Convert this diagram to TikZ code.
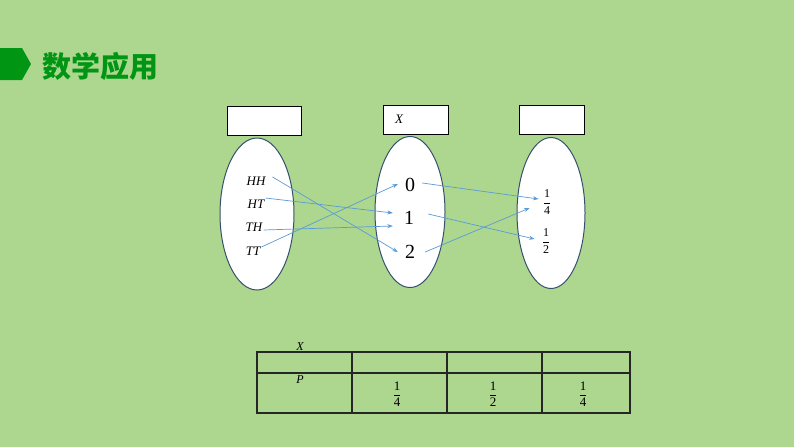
\documentclass[tikz,border=0pt]{standalone}
\usepackage{fontspec}
\setmainfont{Liberation Serif}
\newfontfamily\cjk{Noto Sans CJK SC}
\usepackage{tikz}
\usetikzlibrary{shapes.geometric, arrows.meta, positioning}
\definecolor{bggreen}{RGB}{173,215,143}
\definecolor{titlegreen}{RGB}{0,150,20}
\definecolor{maplink}{RGB}{91,155,213}
\definecolor{ovalline}{RGB}{55,80,110}
\newcommand{\pfrac}[2]{$\displaystyle\frac{\mbox{#1}}{\mbox{#2}}$}

\begin{document}
\begin{tikzpicture}[
    x=1pt, y=-1pt,
    setoval/.style={ellipse, draw=ovalline, fill=white, line width=1pt, minimum width=74pt, minimum height=152pt},
    headbox/.style={rectangle, draw=black, fill=white, line width=0.9pt, minimum width=65pt, minimum height=29pt},
    outcome/.style={font=\fontsize{13}{13}\selectfont\itshape, inner sep=1pt},
    value/.style={font=\fontsize{20}{20}\selectfont, inner sep=1pt},
    prob/.style={font=\fontsize{12}{12}\selectfont, inner sep=1pt},
    maparrow/.style={-{Stealth[length=5.5pt, width=4pt]}, maplink, line width=0.7pt},
    grid/.style={line width=1.1pt, draw=black!85}
]
    \fill[bggreen] (0,0) rectangle (794,447);

    % title
    \fill[titlegreen] (0,48) -- (22,48) -- (31,64) -- (22,80) -- (0,80) -- cycle;
    \node[text=titlegreen, font=\cjk\bfseries\fontsize{29}{29}\selectfont] (title) at (100,66) {数学应用};

    % the three sets
    \node[headbox, minimum width=74pt] (boxL) at (264,121) {};
    \node[headbox] (boxM) at (416,120) {};
    \node[font=\fontsize{13}{13}\selectfont\itshape] (boxMX) at (399,119) {X};
    \node[headbox] (boxR) at (552,120) {};

    \node[setoval] (ovalL) at (257,214) {};
    \node[setoval, minimum width=70pt, minimum height=151pt] (ovalM) at (410,212) {};
    \node[setoval, minimum width=68pt, minimum height=151pt] (ovalR) at (551,213) {};

    \node[outcome] (HH) at (256,181) {HH};
    \node[outcome] (HT) at (256,204) {HT};
    \node[outcome] (TH) at (254,227) {TH};
    \node[outcome] (TT) at (253,251) {TT};

    \node[value] (v0) at (410,185) {0};
    \node[value] (v1) at (409,218) {1};
    \node[value] (v2) at (410,252) {2};

    \node[prob] (pq) at (547,202) {\pfrac{1}{4}};
    \node[prob] (ph) at (546,241) {\pfrac{1}{2}};

    % outcomes to values
    \draw[maparrow] ([xshift=6pt, yshift=4pt]HH.east) -- ([xshift=-6pt]v2.west);
    \draw[maparrow] ([yshift=6pt]HT.east) -- ([xshift=-10pt, yshift=5pt]v1.west);
    \draw[maparrow] ([yshift=-3pt]TH.east) -- ([xshift=-10pt, yshift=-8pt]v1.west);
    \draw[maparrow] ([yshift=4pt]TT.east) -- ([xshift=-6pt, yshift=1pt]v0.west);

    % values to probabilities
    \draw[maparrow] ([xshift=6pt, yshift=2pt]v0.east) -- ([xshift=-3pt, yshift=3pt]pq.west);
    \draw[maparrow] ([xshift=13pt, yshift=4pt]v1.east) -- ([xshift=-6pt, yshift=2pt]ph.west);
    \draw[maparrow] ([xshift=9pt]v2.east) -- ([xshift=-12pt, yshift=-6pt]pq.west);

    % distribution table
    \draw[grid] (257,352) rectangle (630,413);
    \draw[grid] (257,373) -- (630,373);
    \foreach \cx in {352,447,542}
        \draw[grid] (\cx,352) -- (\cx,413);
    \node[font=\fontsize{12}{12}\selectfont\itshape] (tabX) at (300,347) {X};
    \node[font=\fontsize{12}{12}\selectfont\itshape] (tabP) at (300,380) {P};
    \node[prob, font=\fontsize{13}{13}\selectfont] (t1) at (397,394) {\pfrac{1}{4}};
    \node[prob, font=\fontsize{13}{13}\selectfont] (t2) at (493,394) {\pfrac{1}{2}};
    \node[prob, font=\fontsize{13}{13}\selectfont] (t3) at (583,394) {\pfrac{1}{4}};
\end{tikzpicture}
\end{document}
